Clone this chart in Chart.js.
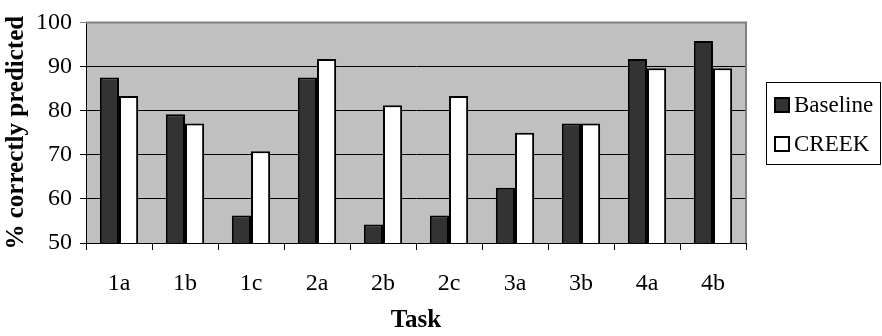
<!DOCTYPE html>
<html>
<head>
<meta charset="utf-8">
<script src="https://cdn.jsdelivr.net/npm/chart.js@4"></script>
<style>
  html, body { margin: 0; padding: 0; background: #ffffff; }
  #wrap { width: 882px; height: 336px; }
</style>
</head>
<body>
<div id="wrap"><canvas id="taskChart" width="882" height="336"></canvas></div>
<script>
const tasks = ['1a', '1b', '1c', '2a', '2b', '2c', '3a', '3b', '4a', '4b'];
const baseline = [87.5, 79.2, 56.25, 87.5, 54.2, 56.25, 62.5, 77.1, 91.7, 95.8];
const creek = [83.3, 77.1, 70.8, 91.7, 81.25, 83.3, 75, 77.1, 89.6, 89.6];
const yTicks = [50, 60, 70, 80, 90, 100];

const serif = "'Liberation Serif', 'Times New Roman', serif";

// grey plot area with a darker frame on top and right
const plotFrame = {
  id: 'plotFrame',
  beforeDraw(chart) {
    const { ctx, chartArea: a } = chart;
    ctx.save();
    ctx.fillStyle = '#c0c0c0';
    ctx.fillRect(a.left, a.top, a.right - a.left, a.bottom - a.top);
    ctx.restore();
  },
  afterDatasetsDraw(chart) {
    const { ctx, chartArea: a } = chart;
    ctx.save();
    ctx.strokeStyle = '#808080';
    ctx.lineWidth = 2;
    ctx.beginPath();
    ctx.moveTo(a.left, a.top);
    ctx.lineTo(a.right, a.top);
    ctx.lineTo(a.right, a.bottom);
    ctx.stroke();
    ctx.restore();
  },
};

// boxed legend to the right of the plot
const boxLegend = {
  id: 'boxLegend',
  afterDraw(chart) {
    const { ctx } = chart;
    const x = 766, y = 82, w = 115, h = 83;
    ctx.save();
    ctx.fillStyle = '#ffffff';
    ctx.fillRect(x, y, w, h);
    ctx.strokeStyle = '#000000';
    ctx.lineWidth = 1;
    ctx.strokeRect(x + 0.5, y + 0.5, w - 1, h - 1);
    ctx.font = '23px ' + serif;
    ctx.textBaseline = 'middle';
    chart.data.datasets.forEach((ds, i) => {
      const cy = y + 23 + i * 39;
      ctx.fillStyle = ds.backgroundColor;
      ctx.fillRect(775, cy - 7, 14, 14);
      ctx.lineWidth = 2;
      ctx.strokeStyle = '#000000';
      ctx.strokeRect(775, cy - 7, 14, 14);
      ctx.fillStyle = '#000000';
      ctx.fillText(ds.label, 794, cy + 1);
    });
    ctx.restore();
  },
};

new Chart(document.getElementById('taskChart'), {
  type: 'bar',
  data: {
    labels: tasks,
    datasets: [
      {
        label: 'Baseline',
        data: baseline,
        backgroundColor: '#333333',
        borderColor: '#000000',
        borderWidth: 2,
        borderSkipped: false,
      },
      {
        label: 'CREEK',
        data: creek,
        backgroundColor: '#ffffff',
        borderColor: '#000000',
        borderWidth: 2,
        borderSkipped: false,
      },
    ],
  },
  options: {
    responsive: false,
    animation: false,
    layout: { padding: { top: 15, right: 136, left: 0, bottom: 0 } },
    datasets: {
      bar: { categoryPercentage: 0.58, barPercentage: 1 },
    },
    plugins: {
      legend: { display: false },
      tooltip: { enabled: false },
    },
    scales: {
      x: {
        afterFit: (scale) => { scale.height = 93; },
        grid: {
          offset: true,
          drawOnChartArea: false,
          drawTicks: true,
          tickLength: 7,
          color: '#000000',
        },
        border: { display: true, color: '#000000', width: 1 },
        ticks: {
          color: '#000000',
          padding: 19,
          font: { family: serif, size: 24 },
        },
        title: {
          display: true,
          text: 'Task',
          color: '#000000',
          padding: { top: 0, bottom: 0 },
          font: { family: serif, size: 25, weight: 'bold' },
        },
      },
      y: {
        min: yTicks[0],
        max: yTicks[yTicks.length - 1],
        afterFit: (scale) => { scale.width = 86; },
        afterBuildTicks: (scale) => {
          scale.ticks = yTicks.map((v) => ({ value: v }));
        },
        grid: {
          color: (c) => (c.tick && c.tick.value === 100 ? '#808080' : '#000000'),
          lineWidth: 1,
          drawTicks: true,
          tickLength: 6,
        },
        border: { display: true, color: '#000000', width: 1 },
        ticks: {
          color: '#000000',
          padding: 8,
          font: { family: serif, size: 24 },
        },
        title: {
          display: true,
          text: '% correctly predicted',
          color: '#000000',
          padding: { top: 2, bottom: 0 },
          font: { family: serif, size: 25, weight: 'bold' },
        },
      },
    },
  },
  plugins: [plotFrame, boxLegend],
});
</script>
</body>
</html>
